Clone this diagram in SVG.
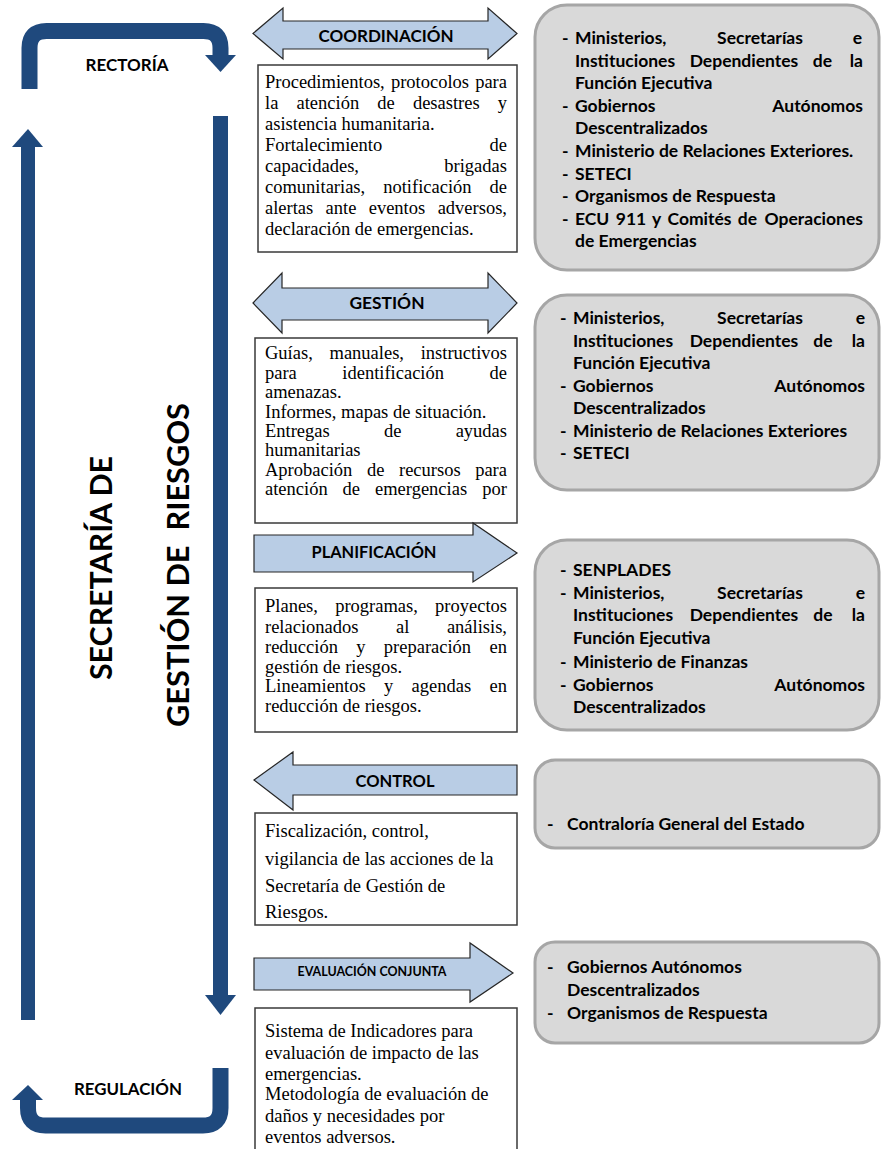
<svg xmlns="http://www.w3.org/2000/svg" width="881" height="1149" viewBox="0 0 881 1149">
<style>
.blue{fill:#1f497d}
.bent{fill:none;stroke:#1f497d;stroke-width:16}
.arr{fill:#b9cde5;stroke:#262626;stroke-width:1.2}
.box{fill:#fff;stroke:#3a3a3a;stroke-width:1.5}
.rbox{fill:#d9d9d9;stroke:#a6a6a6;stroke-width:3}
.t{font-family:"Liberation Serif","Times New Roman",serif;font-size:18.5px;fill:#000}
.b{font-family:Lato,"Liberation Sans",sans-serif;font-weight:bold;font-size:17px;fill:#000}
.r{font-family:Lato,"Liberation Sans",sans-serif;font-weight:bold;font-size:17.5px;fill:#000}
.c{text-anchor:middle}
.e{text-anchor:end}
.v{font-family:Lato,"Liberation Sans",sans-serif;font-weight:bold;font-size:30px;fill:#000;text-anchor:middle;white-space:pre}
</style>
<rect width="881" height="1149" fill="#fff"/>

<g id="connectors">
  <path class="bent" d="M29.5,89 V48 Q29.5,31 46.5,31 H203.5 Q220.5,31 220.5,48 V56"/>
  <polygon class="blue" points="205,55 236,55 220.5,72"/>
  <rect class="blue" x="21" y="146" width="14" height="874"/>
  <polygon class="blue" points="12,147 43,147 28,129"/>
  <rect class="blue" x="213" y="116" width="15" height="880"/>
  <polygon class="blue" points="205,995 236,995 220.5,1015"/>
  <path class="bent" d="M220.5,1068 V1108 Q220.5,1125.5 203,1125.5 H45.5 Q28,1125.5 28,1108 V1099"/>
  <polygon class="blue" points="12,1100 43,1100 28,1085"/>
</g>

<g id="rectoria"><text class="b c" x="127" y="71" textLength="83" lengthAdjust="spacingAndGlyphs">RECTORÍA</text></g>
<g id="regulacion"><text class="b c" x="128" y="1095" textLength="108" lengthAdjust="spacingAndGlyphs">REGULACIÓN</text></g>
<g id="titulo">
  <text class="v" transform="translate(112,568) rotate(-90)" textLength="224" lengthAdjust="spacingAndGlyphs">SECRETARÍA DE</text>
  <text class="v" transform="translate(189,565) rotate(-90)" textLength="324" lengthAdjust="spacingAndGlyphs">GESTIÓN DE  RIESGOS</text>
</g>

<g id="coordinacion">
  <polygon class="arr" points="253,33.5 283,8 283,21 488,21 488,8 517,33.5 488,59 488,49 283,49 283,59"/>
  <text class="b c" x="386" y="42" textLength="135" lengthAdjust="spacingAndGlyphs">COORDINACIÓN</text>
</g>
<g id="coordinacion-texto">
  <rect class="box" x="258" y="65" width="259" height="187"/>
  <text class="t" x="265" y="88">Procedimientos,</text><text class="t" x="390.9" y="88">protocolos</text><text class="t e" x="507" y="88">para</text>
  <text class="t" x="265" y="109">la</text><text class="t" x="296.5" y="109">atención</text><text class="t" x="377.3" y="109">de</text><text class="t" x="412.9" y="109">desastres</text><text class="t e" x="507" y="109">y</text>
  <text class="t" x="265" y="130">asistencia humanitaria.</text>
  <text class="t" x="265" y="151">Fortalecimiento</text><text class="t e" x="507" y="151">de</text>
  <text class="t" x="265" y="172">capacidades,</text><text class="t e" x="507" y="172">brigadas</text>
  <text class="t" x="265" y="193">comunitarias,</text><text class="t" x="383.2" y="193">notificación</text><text class="t e" x="507" y="193">de</text>
  <text class="t" x="265" y="214">alertas</text><text class="t" x="325.6" y="214">ante</text><text class="t" x="368.7" y="214">eventos</text><text class="t e" x="507" y="214">adversos,</text>
  <text class="t" x="265" y="235">declaración de emergencias.</text>
</g>
<g id="coordinacion-actores">
  <rect class="rbox" x="535" y="5" width="344" height="265" rx="32"/>
  <text class="r" x="562" y="44">-</text><text class="r" x="575" y="44">Ministerios,</text><text class="r c" x="760" y="44">Secretarías</text><text class="r e" x="862" y="44">e</text>
  <text class="r" x="575" y="66.6">Instituciones</text><text class="r c" x="744" y="66.6">Dependientes</text><text class="r c" x="822.5" y="66.6">de</text><text class="r e" x="863" y="66.6">la</text>
  <text class="r" x="575" y="89.2">Función Ejecutiva</text>
  <text class="r" x="562" y="111.8">-</text><text class="r" x="575" y="111.8">Gobiernos</text><text class="r e" x="863" y="111.8">Autónomos</text>
  <text class="r" x="575" y="134.4">Descentralizados</text>
  <text class="r" x="562" y="157">-</text><text class="r" x="575" y="157">Ministerio de Relaciones Exteriores.</text>
  <text class="r" x="562" y="179.6">-</text><text class="r" x="575" y="179.6">SETECI</text>
  <text class="r" x="562" y="202.2">-</text><text class="r" x="575" y="202.2">Organismos de Respuesta</text>
  <text class="r" x="562" y="224.8">-</text><text class="r" x="575" y="224.8">ECU</text><text class="r c" x="631" y="224.8">911</text><text class="r c" x="656.5" y="224.8">y</text><text class="r c" x="699.5" y="224.8">Comités</text><text class="r c" x="747.5" y="224.8">de</text><text class="r e" x="863" y="224.8">Operaciones</text>
  <text class="r" x="575" y="247.4">de Emergencias</text>
</g>

<g id="gestion">
  <polygon class="arr" points="253,303 282,273 282,288 488,288 488,273 517,303 488,333 488,320 282,320 282,333"/>
  <text class="b c" x="387" y="309" textLength="75" lengthAdjust="spacingAndGlyphs">GESTIÓN</text>
</g>
<g id="gestion-texto">
  <rect class="box" x="255" y="338" width="262" height="185"/>
  <text class="t" x="265" y="359">Guías,</text><text class="t" x="329.5" y="359">manuales,</text><text class="t e" x="507" y="359">instructivos</text>
  <text class="t" x="265" y="378.5">para</text><text class="t" x="342.3" y="378.5">identificación</text><text class="t e" x="507" y="378.5">de</text>
  <text class="t" x="265" y="398">amenazas.</text>
  <text class="t" x="265" y="417.5">Informes, mapas de situación.</text>
  <text class="t" x="265" y="437">Entregas</text><text class="t" x="383.9" y="437">de</text><text class="t e" x="507" y="437">ayudas</text>
  <text class="t" x="265" y="456">humanitarias</text>
  <text class="t" x="265" y="475.5">Aprobación</text><text class="t" x="366.9" y="475.5">de</text><text class="t" x="399" y="475.5">recursos</text><text class="t e" x="507" y="475.5">para</text>
  <text class="t" x="265" y="495">atención</text><text class="t" x="342.6" y="495">de</text><text class="t" x="375" y="495">emergencias</text><text class="t e" x="507" y="495">por</text>
</g>
<g id="gestion-actores">
  <rect class="rbox" x="535" y="295" width="344" height="195" rx="32"/>
  <text class="r" x="560" y="324">-</text><text class="r" x="573" y="324">Ministerios,</text><text class="r c" x="760" y="324">Secretarías</text><text class="r e" x="865" y="324">e</text>
  <text class="r" x="573" y="346.5">Instituciones</text><text class="r c" x="744" y="346.5">Dependientes</text><text class="r c" x="823" y="346.5">de</text><text class="r e" x="865" y="346.5">la</text>
  <text class="r" x="573" y="369">Función Ejecutiva</text>
  <text class="r" x="560" y="391.5">-</text><text class="r" x="573" y="391.5">Gobiernos</text><text class="r e" x="865" y="391.5">Autónomos</text>
  <text class="r" x="573" y="414">Descentralizados</text>
  <text class="r" x="560" y="436.5">-</text><text class="r" x="573" y="436.5">Ministerio de Relaciones Exteriores</text>
  <text class="r" x="560" y="459">-</text><text class="r" x="573" y="459">SETECI</text>
</g>

<g id="planificacion">
  <polygon class="arr" points="254,535 473,535 473,523 517,553 473,582 473,572 254,572"/>
  <text class="b c" x="374" y="558" textLength="125" lengthAdjust="spacingAndGlyphs">PLANIFICACIÓN</text>
</g>
<g id="planificacion-texto">
  <rect class="box" x="255" y="588" width="262" height="144"/>
  <text class="t" x="265" y="612">Planes,</text><text class="t" x="335.2" y="612">programas,</text><text class="t e" x="507" y="612">proyectos</text>
  <text class="t" x="265" y="633">relacionados</text><text class="t" x="396" y="633">al</text><text class="t e" x="507" y="633">análisis,</text>
  <text class="t" x="265" y="653">reducción</text><text class="t" x="356.2" y="653">y</text><text class="t" x="383.8" y="653">preparación</text><text class="t e" x="507" y="653">en</text>
  <text class="t" x="265" y="672.5">gestión de riesgos.</text>
  <text class="t" x="265" y="692">Lineamientos</text><text class="t" x="384" y="692">y</text><text class="t" x="411.6" y="692">agendas</text><text class="t e" x="507" y="692">en</text>
  <text class="t" x="265" y="712">reducción de riesgos.</text>
</g>
<g id="planificacion-actores">
  <rect class="rbox" x="535" y="540" width="344" height="190" rx="32"/>
  <text class="r" x="560" y="576">-</text><text class="r" x="573" y="576">SENPLADES</text>
  <text class="r" x="560" y="598.5">-</text><text class="r" x="573" y="598.5">Ministerios,</text><text class="r c" x="760" y="598.5">Secretarías</text><text class="r e" x="865" y="598.5">e</text>
  <text class="r" x="573" y="621">Instituciones</text><text class="r c" x="744" y="621">Dependientes</text><text class="r c" x="823" y="621">de</text><text class="r e" x="865" y="621">la</text>
  <text class="r" x="573" y="644">Función Ejecutiva</text>
  <text class="r" x="560" y="667.5">-</text><text class="r" x="573" y="667.5">Ministerio de Finanzas</text>
  <text class="r" x="560" y="690.5">-</text><text class="r" x="573" y="690.5">Gobiernos</text><text class="r e" x="865" y="690.5">Autónomos</text>
  <text class="r" x="573" y="713">Descentralizados</text>
</g>

<g id="control">
  <polygon class="arr" points="254,780 293,752 293,765 517,765 517,795 293,795 293,810"/>
  <text class="b c" x="395" y="787" textLength="79" lengthAdjust="spacingAndGlyphs">CONTROL</text>
</g>
<g id="control-texto">
  <rect class="box" x="255" y="813" width="262" height="112"/>
  <text class="t" x="265" y="837">Fiscalización, control,</text>
  <text class="t" x="265" y="865">vigilancia de las acciones de la</text>
  <text class="t" x="265" y="892">Secretaría de Gestión de</text>
  <text class="t" x="265" y="918">Riesgos.</text>
</g>
<g id="control-actores">
  <rect class="rbox" x="535" y="760" width="344" height="88" rx="20"/>
  <text class="r" x="547" y="830">-</text><text class="r" x="567" y="830">Contraloría General del Estado</text>
</g>

<g id="evaluacion">
  <polygon class="arr" points="254,958 470,958 470,943 513,973 470,1002 470,990 254,990"/>
  <text class="b c" x="372" y="976" style="font-size:12.5px" textLength="149" lengthAdjust="spacingAndGlyphs">EVALUACIÓN CONJUNTA</text>
</g>
<g id="evaluacion-texto">
  <path class="box" d="M255,1160 V1008 H517 V1160"/>
  <text class="t" x="265" y="1037">Sistema de Indicadores para</text>
  <text class="t" x="265" y="1059">evaluación de impacto de las</text>
  <text class="t" x="265" y="1080">emergencias.</text>
  <text class="t" x="265" y="1100">Metodología de evaluación de</text>
  <text class="t" x="265" y="1122">daños y necesidades por</text>
  <text class="t" x="265" y="1143">eventos adversos.</text>
</g>
<g id="evaluacion-actores">
  <rect class="rbox" x="535" y="942" width="344" height="101" rx="20"/>
  <text class="r" x="547" y="973">-</text><text class="r" x="567" y="973">Gobiernos Autónomos</text>
  <text class="r" x="567" y="996">Descentralizados</text>
  <text class="r" x="547" y="1019">-</text><text class="r" x="567" y="1019">Organismos de Respuesta</text>
</g>
</svg>
